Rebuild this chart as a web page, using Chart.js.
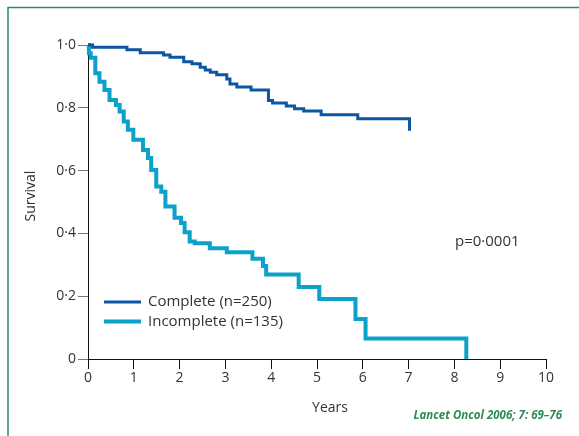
<!DOCTYPE html>
<html>
<head>
<meta charset="utf-8">
<script src="https://cdn.jsdelivr.net/npm/chart.js@4.4.0/dist/chart.umd.min.js"></script>
<style>
html,body{margin:0;padding:0;background:#fff;}
canvas{display:block;}
</style>
</head>
<body>
<canvas id="c" width="579" height="436"></canvas>
<script>
// ---- data ----
const completeTime = [0, 0.1, 0.85, 1.14, 1.65, 1.79, 2.09, 2.27, 2.45, 2.56, 2.67, 2.81, 3.03, 3.10, 3.25, 3.56, 3.94, 4.03, 4.33, 4.51, 4.71, 5.09, 5.89, 7.02];
const completeSurv = [1.0, 0.993, 0.985, 0.975, 0.968, 0.961, 0.947, 0.940, 0.929, 0.920, 0.913, 0.905, 0.892, 0.876, 0.866, 0.857, 0.823, 0.815, 0.806, 0.797, 0.790, 0.778, 0.765, 0.727];
const incompleteTime = [0, 0.02, 0.06, 0.16, 0.25, 0.36, 0.47, 0.61, 0.69, 0.78, 0.87, 0.99, 1.20, 1.31, 1.38, 1.49, 1.60, 1.69, 1.89, 2.03, 2.11, 2.22, 2.33, 2.66, 3.03, 3.59, 3.82, 3.89, 4.60, 5.05, 5.84, 6.06, 8.26];
const incompleteSurv = [1.0, 0.974, 0.959, 0.910, 0.883, 0.857, 0.825, 0.809, 0.788, 0.756, 0.730, 0.698, 0.666, 0.640, 0.602, 0.549, 0.533, 0.486, 0.450, 0.433, 0.404, 0.374, 0.369, 0.353, 0.340, 0.319, 0.296, 0.269, 0.229, 0.191, 0.127, 0.065, 0];
const seriesLabels = ['Complete (n=250)', 'Incomplete (n=135)'];
const xTickLabels = ['0','1','2','3','4','5','6','7','8','9','10'];
const yTickLabels = ['0','0·2','0·4','0·6','0·8','1·0'];
const xTitle = 'Years';
const yTitle = 'Survival';
const pValueText = 'p=0·0001';
const citationText = 'Lancet Oncol 2006; 7: 69–76';

const FONT = '"Open Sans", "Noto Sans", sans-serif';
const TXT = '#333333';

function pts(t, s){ return t.map((v,i)=>({x:v, y:s[i]})); }

const overlay = {
  id: 'overlay',
  afterDraw(chart){
    const ctx = chart.ctx;
    const a = chart.chartArea;
    ctx.save();
    // frame (top and left rules)
    ctx.strokeStyle = '#2e8b5c';
    ctx.lineWidth = 1.5;
    ctx.beginPath();
    ctx.moveTo(8, 436);
    ctx.lineTo(8, 7.5);
    ctx.lineTo(579, 7.5);
    ctx.stroke();

    ctx.fillStyle = TXT;
    ctx.font = '14px ' + FONT;
    // y title
    ctx.save();
    ctx.translate(31, (a.top + a.bottom) / 2 - 6);
    ctx.rotate(-Math.PI / 2);
    ctx.textAlign = 'center';
    ctx.textBaseline = 'middle';
    ctx.fillText(yTitle, 0, 0);
    ctx.restore();
    // x title
    ctx.textAlign = 'center';
    ctx.textBaseline = 'middle';
    ctx.fillText(xTitle, (a.left + a.right) / 2 + 13, 408);
    // p value
    ctx.font = '15px ' + FONT;
    ctx.textAlign = 'left';
    ctx.fillText(pValueText, 455, 242);

    // legend
    ctx.font = '15px ' + FONT;
    chart.data.datasets.forEach((ds, i) => {
      const y = 302 + i * 19.5;
      ctx.strokeStyle = ds.borderColor;
      ctx.lineWidth = ds.borderWidth;
      ctx.beginPath();
      ctx.moveTo(104, y);
      ctx.lineTo(141, y);
      ctx.stroke();
      ctx.fillStyle = TXT;
      ctx.textAlign = 'left';
      ctx.textBaseline = 'middle';
      ctx.fillText(ds.label, 148, y);
    });

    // citation
    ctx.fillStyle = '#2e8b57';
    ctx.font = 'italic bold 11.5px ' + FONT;
    ctx.textAlign = 'right';
    ctx.textBaseline = 'middle';
    ctx.fillText(citationText, 562, 416);
    ctx.restore();
  }
};

new Chart(document.getElementById('c'), {
  type: 'line',
  data: {
    datasets: [
      { label: seriesLabels[0], data: pts(completeTime, completeSurv), borderColor: '#0b57a3', borderWidth: 3,
        stepped: 'before', pointRadius: 0, fill: false, clip: false, borderCapStyle: 'butt' },
      { label: seriesLabels[1], data: pts(incompleteTime, incompleteSurv), borderColor: '#0aa2c8', borderWidth: 4,
        stepped: 'before', pointRadius: 0, fill: false, clip: false, borderCapStyle: 'butt' }
    ]
  },
  options: {
    responsive: false,
    animation: false,
    events: [],
    layout: { padding: { left: 0, top: 45, right: 33, bottom: 0 } },
    plugins: { legend: { display: false }, tooltip: { enabled: false } },
    scales: {
      x: {
        type: 'linear', min: 0, max: 10,
        afterFit(s){ s.height = 77; },
        afterBuildTicks(s){ s.ticks = xTickLabels.map((_, i) => ({ value: i })); },
        ticks: { callback: (v, i) => xTickLabels[i], color: TXT, font: { family: FONT, size: 14 }, padding: 1, maxRotation: 0, autoSkip: false },
        grid: { drawOnChartArea: false, drawTicks: true, tickLength: 10, color: '#111', lineWidth: 1 },
        border: { display: true, color: '#111', width: 1 }
      },
      y: {
        type: 'linear', min: 0, max: 1,
        afterFit(s){ s.width = 88; },
        afterBuildTicks(s){ s.ticks = yTickLabels.map((_, i) => ({ value: i * 0.2 })); },
        ticks: { callback: (v, i) => yTickLabels[i], color: TXT, font: { family: FONT, size: 14 }, padding: 2, autoSkip: false },
        grid: { drawOnChartArea: false, drawTicks: true, tickLength: 10, color: '#777', lineWidth: 1 },
        border: { display: true, color: '#111', width: 1 }
      }
    }
  },
  plugins: [overlay]
});
</script>
</body>
</html>
